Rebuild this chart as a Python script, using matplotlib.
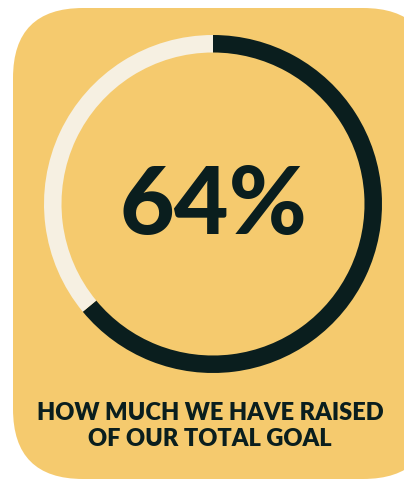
import matplotlib.pyplot as plt
from matplotlib.patches import FancyBboxPatch

# Data
raised_pct = 64
remaining_pct = 100 - raised_pct
values = [raised_pct, remaining_pct]
ring_colors = ['#0A1E1E', '#F6F0E2']
headline = f"{raised_pct}%"
caption = "HOW MUCH WE HAVE RAISED\nOF OUR TOTAL GOAL"

W, H = 404, 483
fig = plt.figure(figsize=(W / 100, H / 100), dpi=100)
ax = fig.add_axes([0, 0, 1, 1])

# Card background (rounded rectangle, partly off the right/bottom edge)
card = FancyBboxPatch((13 + 70, 4 + 70), 420 - 140, 471 - 140,
                      boxstyle="round,pad=70", fc='#F5CA6E', ec='none')
ax.add_patch(card)

# Progress ring
ax.pie(values, colors=ring_colors, startangle=90, counterclock=False,
       center=(213, H - 204), radius=169,
       wedgeprops=dict(width=17.5, edgecolor='none'))

ax.text(213, H - 207, headline, ha='center', va='center',
        fontsize=68, fontweight='black', color='#0A1E1E', family='Lato')
ax.text(210, H - 426, caption, ha='center', va='center',
        fontsize=17, fontweight='heavy', color='#0A1E1E', family='Lato',
        linespacing=1.2)

ax.set_xlim(0, W)
ax.set_ylim(0, H)
ax.set_aspect('equal')
ax.axis('off')

fig.savefig('out.png', dpi=100, facecolor='white')
